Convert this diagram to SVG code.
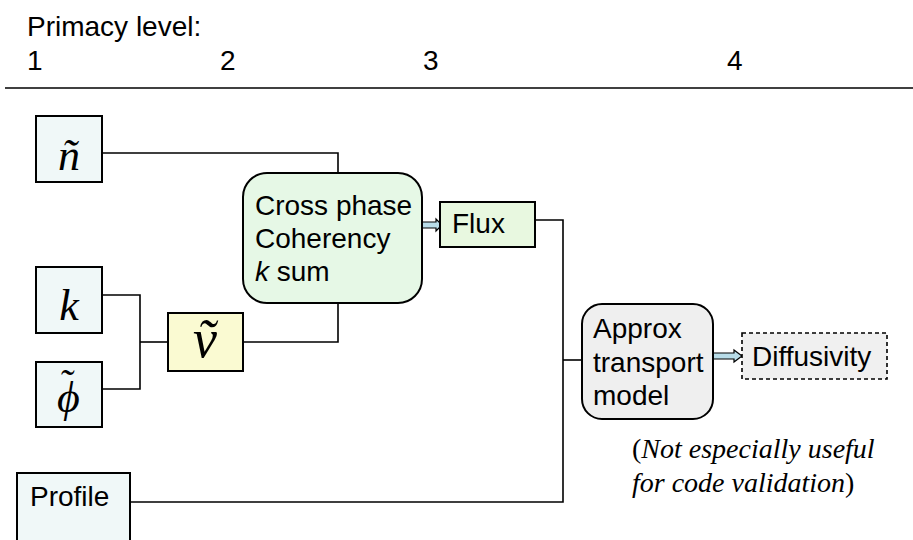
<svg xmlns="http://www.w3.org/2000/svg" width="913" height="540" viewBox="0 0 913 540">
<style>
.sans{font-family:"Liberation Sans",Arial,sans-serif;font-size:28px;fill:#000}
.math{font-family:"Liberation Serif","Times New Roman",serif;font-style:italic;fill:#000}
.note{font-family:"Liberation Serif","Times New Roman",serif;font-size:28px;fill:#000}
.box{stroke:#000;stroke-width:2}
.conn{fill:none;stroke:#000;stroke-width:1.6}
.barrow{fill:#b8dce8;stroke:#000;stroke-width:1.2}
</style>
<rect width="913" height="540" fill="#fff"/>
<g id="header">
<text class="sans" x="27" y="36" font-size="29">Primacy level:</text>
<text class="sans" x="27" y="70">1</text>
<text class="sans" x="220" y="70">2</text>
<text class="sans" x="423" y="70">3</text>
<text class="sans" x="727" y="70">4</text>
<line x1="5" y1="88" x2="913" y2="88" stroke="#000" stroke-width="1.5"/>
</g>
<g id="connectors">
<polyline class="conn" stroke-width="2" points="102,153 338,153 338,173"/>
<polyline class="conn" points="102,295 140,295 140,389 102,389"/>
<line class="conn" x1="140" y1="342" x2="168" y2="342"/>
<polyline class="conn" points="243,342 338,342 338,303"/>
<polyline class="conn" stroke-width="2" points="535,220 563,220 563,502 130,502"/>
<line class="conn" x1="563" y1="360" x2="582" y2="360"/>
<polygon class="barrow" points="422,222 436,222 436,219 442,225 436,231 436,228 422,228"/>
<polygon class="barrow" points="713,353 734,353 734,350 742,356 734,362 734,359 713,359"/>
</g>
<g id="n">
<rect class="box" x="36" y="116" width="66" height="66" fill="#f0f8f8"/>
<text class="math" x="69" y="170" font-size="44" text-anchor="middle">ñ</text>
</g>
<g id="k">
<rect class="box" x="36" y="267" width="66" height="66" fill="#f0f8f8"/>
<text class="math" x="69" y="320" font-size="44" text-anchor="middle">k</text>
</g>
<g id="phi">
<rect class="box" x="36" y="362" width="66" height="65" fill="#f0f8f8"/>
<text class="math" x="57" y="412" font-size="44">ϕ<tspan dx="-21" dy="-15" font-size="40">˜</tspan></text>
</g>
<g id="v">
<rect class="box" x="168" y="313" width="75" height="58" fill="#fafad2"/>
<text class="math" x="205" y="357" font-size="54" text-anchor="middle">ṽ</text>
</g>
<g id="crossphase">
<rect class="box" x="243" y="173" width="179" height="130" rx="24" fill="#e6f8e6"/>
<text class="sans" x="255" y="215">Cross phase</text>
<text class="sans" x="255" y="248">Coherency</text>
<text class="sans" x="255" y="281"><tspan font-style="italic">k</tspan> sum</text>
</g>
<g id="flux">
<rect class="box" x="440" y="202" width="95" height="45" fill="#e8f8e0"/>
<text class="sans" x="452" y="233">Flux</text>
</g>
<g id="approx">
<rect class="box" x="582" y="304" width="131" height="115" rx="20" fill="#efefef"/>
<text class="sans" x="593" y="338">Approx</text>
<text class="sans" x="593" y="372">transport</text>
<text class="sans" x="593" y="405">model</text>
</g>
<g id="diffusivity">
<rect x="742" y="333" width="145" height="46" fill="#f0f0f0" stroke="#000" stroke-width="1.6" stroke-dasharray="4,3"/>
<text class="sans" x="752" y="366">Diffusivity</text>
</g>
<g id="profile">
<rect class="box" x="17" y="473" width="113" height="80" fill="#f0f8f8"/>
<text class="sans" x="30" y="506">Profile</text>
</g>
<g id="note">
<text class="note" x="632" y="458">(<tspan font-style="italic">Not especially useful</tspan></text>
<text class="note" x="632" y="492"><tspan font-style="italic">for code validation</tspan>)</text>
</g>
</svg>
